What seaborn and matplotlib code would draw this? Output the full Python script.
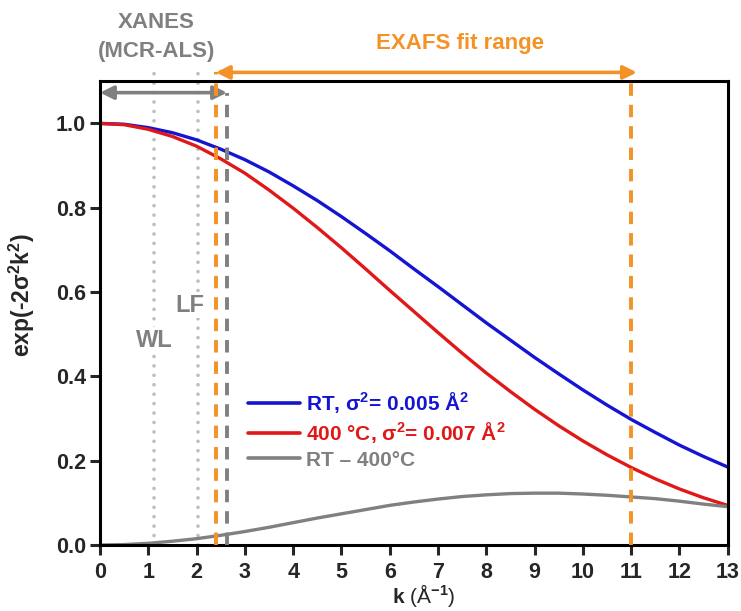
import matplotlib
matplotlib.use("Agg")
import matplotlib.pyplot as plt
import seaborn as sns
import pandas as pd

# ---- data ----
k = [0.0, 0.5, 1.0, 1.5, 2.0, 2.5, 3.0, 3.5, 4.0, 4.5, 5.0, 5.5, 6.0, 6.5,
     7.0, 7.5, 8.0, 8.5, 9.0, 9.5, 10.0, 10.5, 11.0, 11.5, 12.0, 12.5, 13.0]
rt = [1.000, 0.998, 0.990, 0.978, 0.961, 0.939, 0.914, 0.885, 0.852, 0.817,
      0.779, 0.739, 0.698, 0.655, 0.613, 0.570, 0.527, 0.486, 0.445, 0.406,
      0.368, 0.332, 0.298, 0.267, 0.237, 0.210, 0.185]
t400 = [1.000, 0.997, 0.986, 0.969, 0.946, 0.916, 0.882, 0.842, 0.799, 0.753,
        0.705, 0.655, 0.604, 0.554, 0.504, 0.455, 0.408, 0.364, 0.322, 0.283,
        0.247, 0.214, 0.184, 0.157, 0.133, 0.112, 0.094]
diff = [0.000, 0.001, 0.004, 0.009, 0.015, 0.023, 0.032, 0.042, 0.053, 0.064,
        0.074, 0.084, 0.094, 0.102, 0.109, 0.115, 0.119, 0.122, 0.123, 0.123,
        0.121, 0.118, 0.114, 0.110, 0.104, 0.097, 0.091]
labels = [r"RT, σ$^{\mathbf{2}}$= 0.005 Å$^{\mathbf{2}}$",
          r"400 °C, σ$^{\mathbf{2}}$= 0.007 Å$^{\mathbf{2}}$",
          "RT – 400°C"]
colors = ["#1414D2", "#E01818", "#808080"]

xanes_lim = 2.63       # end of XANES range
exafs_range = [2.4, 11.0]
wl_k, lf_k = 1.12, 2.02
xticks = list(range(0, 14))
yticks = [0.0, 0.2, 0.4, 0.6, 0.8, 1.0]

ORANGE = "#F39325"
GRAY = "#808080"
LGRAY = "#BDBDBD"

sns.set_style("ticks")
plt.rcParams["font.family"] = ["Liberation Sans", "DejaVu Sans"]
plt.rcParams["font.weight"] = "bold"
plt.rcParams["mathtext.fontset"] = "custom"
plt.rcParams["mathtext.rm"] = "Liberation Sans"
plt.rcParams["mathtext.bf"] = "Liberation Sans:bold"
plt.rcParams["mathtext.it"] = "Liberation Sans:italic"

df = pd.DataFrame({
    "k": k * 3,
    "val": rt + t400 + diff,
    "series": [labels[0]] * len(k) + [labels[1]] * len(k) + [labels[2]] * len(k),
})

fig = plt.figure(figsize=(7.41, 6.11), dpi=100)
ax = fig.add_axes([0.135, 0.108, 0.847, 0.759])

sns.lineplot(data=df, x="k", y="val", hue="series", palette=colors,
             hue_order=labels, lw=2.4, ax=ax, legend=True)

ax.set_xlim(0, 13)
ax.set_ylim(0, 1.1)
ax.set_xticks(xticks)
ax.set_yticks(yticks)
ax.set_xticklabels([str(t) for t in xticks])
ax.set_yticklabels([f"{t:.1f}" for t in yticks])
ax.tick_params(axis="both", direction="out", length=7, width=2.2,
               labelsize=15.5)
ax.tick_params(axis="x", pad=5)
ax.tick_params(axis="y", pad=3)
for lab in ax.get_xticklabels() + ax.get_yticklabels():
    lab.set_fontweight("bold")
for sp in ax.spines.values():
    sp.set_linewidth(2.2)
    sp.set_color("black")

ax.set_xlabel(r"$\mathbf{k}$ (Å$^{\mathrm{-1}}$)", fontsize=15,
              fontweight="normal")
ax.xaxis.set_label_coords(0.515, -0.079)
ax.set_ylabel(r"exp(-2σ$^{\mathbf{2}}$k$^{\mathbf{2}}$)", fontsize=16.5,
              fontweight="bold")
ax.yaxis.set_label_coords(-0.101, 0.539)

# vertical reference lines
for xv in exafs_range:
    ax.plot([xv, xv], [0, 1.121], color=ORANGE, lw=2.8, ls=(0, (3.2, 2.3)),
            clip_on=False, zorder=4)
ax.plot([xanes_lim, xanes_lim], [0, 1.073], color=GRAY, lw=2.8,
        ls=(0, (3.2, 2.3)), clip_on=False, zorder=4)
for xv in (wl_k, lf_k):
    ax.plot([xv, xv], [0, 1.121], color=LGRAY, lw=2.6, ls=(0, (0.01, 2.6)),
            dash_capstyle="round", clip_on=False, zorder=1)

ax.text(wl_k, 0.486, "WL", color=GRAY, fontsize=17, fontweight="bold",
        ha="center", va="center", zorder=2,
        bbox=dict(facecolor="white", edgecolor="none", pad=1))
ax.text(1.86, 0.569, "LF", color=GRAY, fontsize=17, fontweight="bold",
        ha="center", va="center", zorder=2,
        bbox=dict(facecolor="white", edgecolor="none", pad=1))

# arrows
ax.annotate("", xy=(0, 1.073), xytext=(xanes_lim, 1.073),
            arrowprops=dict(arrowstyle="<|-|>", color=GRAY, lw=2.6,
                            mutation_scale=20, shrinkA=0, shrinkB=0),
            annotation_clip=False)
ax.annotate("", xy=(exafs_range[0], 1.121), xytext=(11.12, 1.121),
            arrowprops=dict(arrowstyle="<|-|>", color=ORANGE, lw=2.6,
                            mutation_scale=20, shrinkA=0, shrinkB=0),
            annotation_clip=False)

ax.text(1.17, 1.204, "XANES\n(MCR-ALS)", color=GRAY, fontsize=16,
        fontweight="bold", ha="center", va="center", linespacing=1.5,
        clip_on=False)
ax.text(7.45, 1.19, "EXAFS fit range", color=ORANGE, fontsize=16,
        fontweight="bold", ha="center", va="center", clip_on=False)

leg = ax.legend(loc="upper left", bbox_to_anchor=(0.222, 0.352), frameon=False,
                fontsize=15, handlelength=2.5, handletextpad=0.3,
                labelspacing=0.25, borderaxespad=0)
for txt, c in zip(leg.get_texts(), colors):
    txt.set_color(c)
    txt.set_fontweight("bold")
for h in leg.get_lines():
    h.set_linewidth(2.6)

fig.savefig("out.png", dpi=100)
